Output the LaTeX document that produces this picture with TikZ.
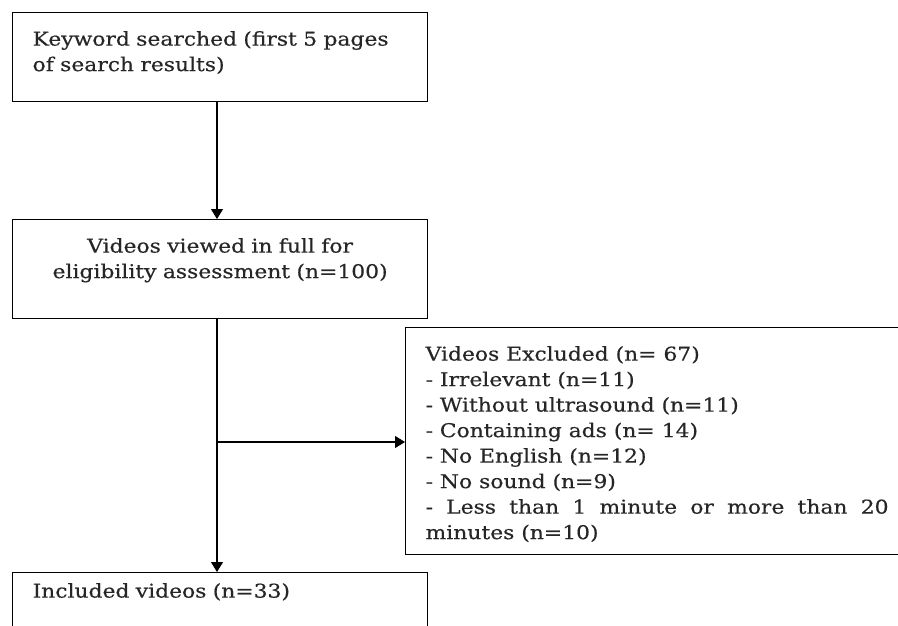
\documentclass[tikz,border=0pt]{standalone}
\usepackage{fontspec}
\setmainfont{DejaVu Serif}[FakeStretch=1.15, FakeBold=0.4]
\usetikzlibrary{arrows.meta}
\hyphenpenalty=10000
\exhyphenpenalty=10000
\begin{document}
\begin{tikzpicture}[
  x = 1pt,
  y = -1pt,
  box/.style = {
    draw,
    line width = 1.2pt,
    anchor = north west,
    inner xsep = 20pt,
    inner ysep = 0pt,
    text height = 33pt,
    font = \fontsize{19}{25.5}\selectfont,
    text = black!85,
  },
  arr/.style = {
    line width = 1.2pt,
    -{Triangle[width=12pt, length=10pt]}
  }
]
  \useasboundingbox (0, 0) rectangle (898, 626);
  \clip (0, 0) rectangle (898, 626);

  \node[box, text width = 375pt, align = left, text depth = 56pt] (search) at (12, 12)
    {Keyword searched (first 5 pages\\of search results)};
  \node[box, text width = 375pt, align = center, text depth = 66pt] (viewed) at (12, 219)
    {Videos viewed in full for\\eligibility assessment (n=100)};
  \node[box, text width = 463pt, align = justify, text depth = 194pt] (excluded) at (405, 327)
    {Videos Excluded (n= 67)\newline
     - Irrelevant (n=11)\newline
     - Without ultrasound (n=11)\newline
     - Containing ads (n= 14)\newline
     - No English (n=12)\newline
     - No sound (n=9)\newline
     - Less than 1 minute or more than 20 minutes (n=10)};
  \node[box, text width = 375pt, align = left, text height = 25pt, text depth = 70pt] (included) at (12, 572)
    {Included videos (n=33)};

  \coordinate (trunk) at (217, 0);
  \coordinate (split) at (217, 442);

  \draw[arr] (search.south -| trunk) -- (viewed.north -| trunk);
  \draw[arr] (viewed.south -| trunk) -- (included.north -| trunk);
  \draw[arr] (split) -- (excluded.west |- split);
\end{tikzpicture}
\end{document}
